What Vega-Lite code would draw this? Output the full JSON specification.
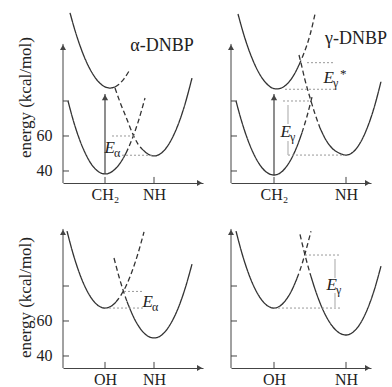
{
  "$schema": "https://vega.github.io/schema/vega-lite/v6.json",
  "padding": {"left": 15, "top": 10, "right": 0, "bottom": 0},
  "autosize": {"type": "pad"},
  "bounds": "flush",
  "columns": 2,
  "spacing": {"row": 43, "column": 28},
  "config": {
    "view": {"stroke": null},
    "font": "Liberation Serif",
    "axis": {"labelFont": "Liberation Serif", "labelFontSize": 16, "labelColor": "#222", "titleFont": "Liberation Serif", "titleFontSize": 17, "titleFontWeight": "normal", "titleColor": "#222", "domainColor": "#444", "grid": false, "ticks": false, "domainWidth": 1, "labelFlush": false},
    "axisX": {"labelFontSize": 16}
  },
  "datasets": {
    "one": [{"k": 1}],
    "yt": [{"E": 40}, {"E": 60}, {"E": 80}],
    "xt": [{"p":1,"q":42},{"p":1,"q":91},{"p":2,"q":43},{"p":2,"q":115},{"p":3,"q":42},{"p":3,"q":91},{"p":4,"q":43},{"p":4,"q":115}],
    "curves": [
      {"p":1,"c":"up","s":"solid","q":7,"E":130.4},{"p":1,"c":"up","s":"solid","q":12,"E":120.3},{"p":1,"c":"up","s":"solid","q":17,"E":111.6},{"p":1,"c":"up","s":"solid","q":22,"E":104.2},{"p":1,"c":"up","s":"solid","q":27,"E":98.2},{"p":1,"c":"up","s":"solid","q":32,"E":93.5},{"p":1,"c":"up","s":"solid","q":37,"E":90.1},{"p":1,"c":"up","s":"solid","q":42,"E":88.1},{"p":1,"c":"up","s":"solid","q":47,"E":87.4},{"p":1,"c":"up","s":"solid","q":52,"E":88.0},
      {"p":1,"c":"up","s":"dashed","q":52,"E":88.0},{"p":1,"c":"up","s":"dashed","q":56,"E":89.6},{"p":1,"c":"up","s":"dashed","q":61,"E":92.7},{"p":1,"c":"up","s":"dashed","q":66,"E":97.1},
      {"p":1,"c":"lo","s":"solid","q":5,"E":80.0},{"p":1,"c":"lo","s":"solid","q":11,"E":67.5},{"p":1,"c":"lo","s":"solid","q":17,"E":57.3},{"p":1,"c":"lo","s":"solid","q":23,"E":49.3},{"p":1,"c":"lo","s":"solid","q":29,"E":43.4},{"p":1,"c":"lo","s":"solid","q":35,"E":39.8},{"p":1,"c":"lo","s":"solid","q":42,"E":38.3},{"p":1,"c":"lo","s":"solid","q":48,"E":39.3},{"p":1,"c":"lo","s":"solid","q":54,"E":42.2},{"p":1,"c":"lo","s":"solid","q":60,"E":47.1},{"p":1,"c":"lo","s":"solid","q":63,"E":50.2},
      {"p":1,"c":"lo","s":"dashed","q":63,"E":50.2},{"p":1,"c":"lo","s":"dashed","q":69,"E":58.1},{"p":1,"c":"lo","s":"dashed","q":75,"E":67.8},{"p":1,"c":"lo","s":"dashed","q":82,"E":81.7},
      {"p":1,"c":"nh","s":"dashed","q":52,"E":87.4},{"p":1,"c":"nh","s":"dashed","q":57,"E":79.4},{"p":1,"c":"nh","s":"dashed","q":63,"E":70.9},{"p":1,"c":"nh","s":"dashed","q":70.7,"E":60.0},{"p":1,"c":"nh","s":"dashed","q":75,"E":55.4},{"p":1,"c":"nh","s":"dashed","q":79,"E":52.6},
      {"p":1,"c":"nh","s":"solid","q":79,"E":52.6},{"p":1,"c":"nh","s":"solid","q":85,"E":49.7},{"p":1,"c":"nh","s":"solid","q":91,"E":48.6},{"p":1,"c":"nh","s":"solid","q":97,"E":49.7},{"p":1,"c":"nh","s":"solid","q":103,"E":53.0},{"p":1,"c":"nh","s":"solid","q":109,"E":58.6},{"p":1,"c":"nh","s":"solid","q":115,"E":66.3},{"p":1,"c":"nh","s":"solid","q":121,"E":76.3},{"p":1,"c":"nh","s":"solid","q":129,"E":93.1},

      {"p":2,"c":"up","s":"solid","q":7,"E":129.7},{"p":2,"c":"up","s":"solid","q":14,"E":115.7},{"p":2,"c":"up","s":"solid","q":21,"E":104.5},{"p":2,"c":"up","s":"solid","q":28,"E":96.0},{"p":2,"c":"up","s":"solid","q":35,"E":90.3},{"p":2,"c":"up","s":"solid","q":41,"E":87.5},{"p":2,"c":"up","s":"solid","q":46,"E":86.9},{"p":2,"c":"up","s":"solid","q":52,"E":87.9},{"p":2,"c":"up","s":"solid","q":58,"E":90.9},{"p":2,"c":"up","s":"solid","q":63,"E":95.0},{"p":2,"c":"up","s":"solid","q":68,"E":100.6},
      {"p":2,"c":"up","s":"dashed","q":68,"E":100.6},{"p":2,"c":"up","s":"dashed","q":73,"E":107.4},{"p":2,"c":"up","s":"dashed","q":79,"E":117.7},{"p":2,"c":"up","s":"dashed","q":84,"E":129.7},
      {"p":2,"c":"lo","s":"solid","q":5,"E":80.0},{"p":2,"c":"lo","s":"solid","q":11,"E":67.7},{"p":2,"c":"lo","s":"solid","q":17,"E":57.5},{"p":2,"c":"lo","s":"solid","q":23,"E":49.4},{"p":2,"c":"lo","s":"solid","q":29,"E":43.4},{"p":2,"c":"lo","s":"solid","q":36,"E":39.1},{"p":2,"c":"lo","s":"solid","q":43,"E":37.7},{"p":2,"c":"lo","s":"solid","q":49,"E":38.8},{"p":2,"c":"lo","s":"solid","q":55,"E":42.2},{"p":2,"c":"lo","s":"solid","q":61,"E":47.7},{"p":2,"c":"lo","s":"solid","q":67,"E":55.5},{"p":2,"c":"lo","s":"solid","q":71,"E":61.9},
      {"p":2,"c":"lo","s":"dashed","q":71,"E":61.9},{"p":2,"c":"lo","s":"dashed","q":76,"E":71.3},{"p":2,"c":"lo","s":"dashed","q":81,"E":82.3},
      {"p":2,"c":"nh","s":"dashed","q":68,"E":106.3},{"p":2,"c":"nh","s":"dashed","q":70,"E":101.7},{"p":2,"c":"nh","s":"dashed","q":74,"E":92.0},{"p":2,"c":"nh","s":"dashed","q":80,"E":80.0},{"p":2,"c":"nh","s":"dashed","q":84,"E":72.6},{"p":2,"c":"nh","s":"dashed","q":89,"E":64.6},
      {"p":2,"c":"nh","s":"solid","q":89,"E":64.6},{"p":2,"c":"nh","s":"solid","q":95,"E":57.7},{"p":2,"c":"nh","s":"solid","q":101,"E":53.1},{"p":2,"c":"nh","s":"solid","q":108,"E":50.3},{"p":2,"c":"nh","s":"solid","q":115,"E":49.1},{"p":2,"c":"nh","s":"solid","q":122,"E":50.8},{"p":2,"c":"nh","s":"solid","q":129,"E":55.9},{"p":2,"c":"nh","s":"solid","q":136,"E":64.3},{"p":2,"c":"nh","s":"solid","q":143,"E":76.0},{"p":2,"c":"nh","s":"solid","q":150,"E":91.1},

      {"p":3,"c":"oh","s":"solid","q":4,"E":111.4},{"p":3,"c":"oh","s":"solid","q":10,"E":98.6},{"p":3,"c":"oh","s":"solid","q":16,"E":88.0},{"p":3,"c":"oh","s":"solid","q":22,"E":79.6},{"p":3,"c":"oh","s":"solid","q":28,"E":73.4},{"p":3,"c":"oh","s":"solid","q":35,"E":68.9},{"p":3,"c":"oh","s":"solid","q":42,"E":67.4},{"p":3,"c":"oh","s":"solid","q":49,"E":68.8},{"p":3,"c":"oh","s":"solid","q":53,"E":70.9},
      {"p":3,"c":"oh","s":"dashed","q":53,"E":70.9},{"p":3,"c":"oh","s":"dashed","q":58,"E":74.8},{"p":3,"c":"oh","s":"dashed","q":63,"E":80.0},{"p":3,"c":"oh","s":"dashed","q":69,"E":88.3},{"p":3,"c":"oh","s":"dashed","q":75,"E":98.6},{"p":3,"c":"oh","s":"dashed","q":81,"E":110.9},
      {"p":3,"c":"nh","s":"dashed","q":51,"E":96.0},{"p":3,"c":"nh","s":"dashed","q":56,"E":85.3},{"p":3,"c":"nh","s":"dashed","q":61,"E":76.0},{"p":3,"c":"nh","s":"dashed","q":64,"E":71.1},
      {"p":3,"c":"nh","s":"solid","q":64,"E":71.1},{"p":3,"c":"nh","s":"solid","q":72,"E":60.6},{"p":3,"c":"nh","s":"solid","q":79,"E":54.4},{"p":3,"c":"nh","s":"solid","q":85,"E":51.3},{"p":3,"c":"nh","s":"solid","q":91,"E":50.3},{"p":3,"c":"nh","s":"solid","q":97,"E":51.3},{"p":3,"c":"nh","s":"solid","q":103,"E":54.5},{"p":3,"c":"nh","s":"solid","q":109,"E":59.8},{"p":3,"c":"nh","s":"solid","q":115,"E":67.1},{"p":3,"c":"nh","s":"solid","q":122,"E":78.4},{"p":3,"c":"nh","s":"solid","q":129,"E":92.5},

      {"p":4,"c":"oh","s":"solid","q":5,"E":111.4},{"p":4,"c":"oh","s":"solid","q":11,"E":98.6},{"p":4,"c":"oh","s":"solid","q":17,"E":88.0},{"p":4,"c":"oh","s":"solid","q":23,"E":79.6},{"p":4,"c":"oh","s":"solid","q":29,"E":73.4},{"p":4,"c":"oh","s":"solid","q":36,"E":68.9},{"p":4,"c":"oh","s":"solid","q":43,"E":67.4},{"p":4,"c":"oh","s":"solid","q":49,"E":68.6},{"p":4,"c":"oh","s":"solid","q":55,"E":72.1},{"p":4,"c":"oh","s":"solid","q":61,"E":77.8},{"p":4,"c":"oh","s":"solid","q":66,"E":84.4},
      {"p":4,"c":"oh","s":"dashed","q":66,"E":84.4},{"p":4,"c":"oh","s":"dashed","q":71,"E":92.5},{"p":4,"c":"oh","s":"dashed","q":76,"E":102.6},{"p":4,"c":"oh","s":"dashed","q":80,"E":111.3},
      {"p":4,"c":"nh","s":"dashed","q":69,"E":109.5},{"p":4,"c":"nh","s":"dashed","q":74,"E":97.7},{"p":4,"c":"nh","s":"dashed","q":79,"E":87.3},
      {"p":4,"c":"nh","s":"solid","q":79,"E":87.3},{"p":4,"c":"nh","s":"solid","q":86,"E":74.9},{"p":4,"c":"nh","s":"solid","q":93,"E":65.1},{"p":4,"c":"nh","s":"solid","q":101,"E":57.3},{"p":4,"c":"nh","s":"solid","q":108,"E":53.3},{"p":4,"c":"nh","s":"solid","q":115,"E":52.0},{"p":4,"c":"nh","s":"solid","q":122,"E":53.6},{"p":4,"c":"nh","s":"solid","q":129,"E":58.3},{"p":4,"c":"nh","s":"solid","q":136,"E":66.2},{"p":4,"c":"nh","s":"solid","q":143,"E":77.2},{"p":4,"c":"nh","s":"solid","q":150,"E":91.4}
    ],
    "dots": [
      {"p":1,"q":49,"q2":72,"E":60.0},{"p":1,"q":59,"q2":91,"E":49.0},
      {"p":2,"q":76,"q2":102,"E":101.9},{"p":2,"q":54,"q2":104,"E":86.7},{"p":2,"q":52,"q2":79,"E":80.0},{"p":2,"q":57,"q2":114,"E":49.1},
      {"p":3,"q":61,"q2":81,"E":76.9},{"p":3,"q":42,"q2":81,"E":67.4},
      {"p":4,"q":74,"q2":109,"E":97.7},{"p":4,"q":43,"q2":109,"E":67.4}
    ],
    "bars": [
      {"p":2,"q":57,"E":77.7,"E2":66.9},{"p":2,"q":57,"E":57.1,"E2":49.1},
      {"p":4,"q":104,"E":95.4,"E2":84.6},{"p":4,"q":104,"E":76.0,"E2":68.0}
    ],
    "arrows": [
      {"p":1,"q":42,"E":38.3,"E2":84.0},{"p":2,"q":43,"E":37.7,"E2":84.0}
    ],
    "labels": [
      {"p":1,"q":50,"E":53.1,"sub":"α","sup":""},
      {"p":2,"q":58,"E":62.0,"sub":"γ","sup":""},
      {"p":2,"q":101,"E":93.1,"sub":"γ","sup":"*"},
      {"p":3,"q":88,"E":70.9,"sub":"α","sup":""},
      {"p":4,"q":104,"E":80.6,"sub":"γ","sup":""}
    ],
    "titles": [
      {"p":1,"q":99,"E":111.4,"text":"α-DNBP"},
      {"p":2,"q":125,"E":115.4,"text":"γ-DNBP"}
    ]
  },
  "concat": [
    {
      "width": 140, "height": 172,
      "layer": [
        {"data": {"name": "curves"}, "transform": [{"filter": "datum.p == 1"}],
         "mark": {"type": "line", "interpolate": "monotone", "strokeWidth": 1.3, "color": "#333"},
         "encoding": {
           "x": {"field": "q", "type": "quantitative", "scale": {"domain": [0, 140], "nice": false, "zero": false}, "axis": {"values": [42, 91], "labelExpr": "datum.value == 42 ? 'CH₂' : 'NH'", "labelPadding": 3, "title": null, "labelAngle": 0}},
           "y": {"field": "E", "type": "quantitative", "scale": {"domain": [33.14, 131.43], "nice": false, "zero": false}, "axis": {"values": [40, 60, 80], "labelExpr": "datum.value == 80 ? '' : datum.label", "labelPadding": 11, "domain": false, "title": "energy (kcal/mol)", "titlePadding": 2}},
           "detail": [{"field": "c"}, {"field": "s"}],
           "strokeDash": {"field": "s", "type": "nominal", "scale": {"domain": ["solid", "dashed"], "range": [[1, 0], [5, 3]]}, "legend": null}}},
        {"data": {"name": "dots"}, "transform": [{"filter": "datum.p == 1"}],
         "mark": {"type": "rule", "color": "#999", "strokeDash": [2, 2], "strokeWidth": 1},
         "encoding": {"x": {"field": "q", "type": "quantitative"}, "x2": {"field": "q2"}, "y": {"field": "E", "type": "quantitative"}}},
        {"data": {"name": "arrows"}, "transform": [{"filter": "datum.p == 1"}],
         "mark": {"type": "rule", "color": "#444", "strokeWidth": 1.2},
         "encoding": {"x": {"field": "q", "type": "quantitative"}, "y": {"field": "E", "type": "quantitative"}, "y2": {"field": "E2"}}},
        {"data": {"name": "arrows"}, "transform": [{"filter": "datum.p == 1"}],
         "mark": {"type": "point", "shape": "triangle-up", "filled": true, "size": 40, "color": "#444", "opacity": 1, "yOffset": 3.6},
         "encoding": {"x": {"field": "q", "type": "quantitative"}, "y": {"field": "E2", "type": "quantitative"}}},
        {"data": {"name": "yt"},
         "mark": {"type": "rule", "color": "#444", "strokeWidth": 1},
         "encoding": {"x": {"datum": 0}, "x2": {"datum": 6}, "y": {"field": "E", "type": "quantitative"}}},
        {"data": {"name": "xt"}, "transform": [{"filter": "datum.p == 1"}],
         "mark": {"type": "rule", "color": "#444", "strokeWidth": 1},
         "encoding": {"x": {"field": "q", "type": "quantitative"}, "y": {"datum": 33.14}, "y2": {"datum": 36.6}}},
        {"data": {"name": "one"},
         "mark": {"type": "rule", "color": "#444", "strokeWidth": 1},
         "encoding": {"x": {"datum": 0}, "y": {"datum": 33.14}, "y2": {"datum": 112.6}}},
        {"data": {"name": "one"},
         "mark": {"type": "point", "shape": "triangle-up", "filled": true, "size": 36, "color": "#444", "opacity": 1, "yOffset": 3.4},
         "encoding": {"x": {"datum": 0}, "y": {"datum": 112.6}}},
        {"data": {"name": "one"},
         "mark": {"type": "point", "shape": "triangle-right", "filled": true, "size": 36, "color": "#444", "opacity": 1, "xOffset": -3.4},
         "encoding": {"x": {"datum": 140}, "y": {"datum": 33.14}}},
        {"data": {"name": "labels"}, "transform": [{"filter": "datum.p == 1"}],
         "mark": {"type": "text", "text": "E", "font": "Liberation Serif", "fontStyle": "italic", "fontSize": 17, "align": "right", "baseline": "middle", "dx": 2, "fill": "#222"},
         "encoding": {"x": {"field": "q", "type": "quantitative"}, "y": {"field": "E", "type": "quantitative"}}},
        {"data": {"name": "labels"}, "transform": [{"filter": "datum.p == 1"}],
         "mark": {"type": "text", "font": "Liberation Serif", "fontSize": 12, "align": "left", "baseline": "middle", "dx": 1, "dy": 5, "fill": "#222"},
         "encoding": {"x": {"field": "q", "type": "quantitative"}, "y": {"field": "E", "type": "quantitative"}, "text": {"field": "sub"}}},
        {"data": {"name": "titles"}, "transform": [{"filter": "datum.p == 1"}],
         "mark": {"type": "text", "font": "Liberation Serif", "fontSize": 18, "align": "center", "baseline": "middle", "fill": "#222"},
         "encoding": {"x": {"field": "q", "type": "quantitative"}, "y": {"field": "E", "type": "quantitative"}, "text": {"field": "text"}}}
      ]
    },
    {
      "width": 140, "height": 172,
      "layer": [
        {"data": {"name": "curves"}, "transform": [{"filter": "datum.p == 2"}],
         "mark": {"type": "line", "interpolate": "monotone", "strokeWidth": 1.3, "color": "#333"},
         "encoding": {
           "x": {"field": "q", "type": "quantitative", "scale": {"domain": [0, 140], "nice": false, "zero": false}, "axis": {"values": [43, 115], "labelExpr": "datum.value == 43 ? 'CH₂' : 'NH'", "labelPadding": 3, "title": null, "labelAngle": 0}},
           "y": {"field": "E", "type": "quantitative", "scale": {"domain": [33.14, 131.43], "nice": false, "zero": false}, "axis": {"values": [40, 60, 80], "labels": false, "domain": false, "title": null}},
           "detail": [{"field": "c"}, {"field": "s"}],
           "strokeDash": {"field": "s", "type": "nominal", "scale": {"domain": ["solid", "dashed"], "range": [[1, 0], [5, 3]]}, "legend": null}}},
        {"data": {"name": "dots"}, "transform": [{"filter": "datum.p == 2"}],
         "mark": {"type": "rule", "color": "#999", "strokeDash": [2, 2], "strokeWidth": 1},
         "encoding": {"x": {"field": "q", "type": "quantitative"}, "x2": {"field": "q2"}, "y": {"field": "E", "type": "quantitative"}}},
        {"data": {"name": "bars"}, "transform": [{"filter": "datum.p == 2"}],
         "mark": {"type": "rule", "color": "#bbb", "strokeWidth": 1.3},
         "encoding": {"x": {"field": "q", "type": "quantitative"}, "y": {"field": "E", "type": "quantitative"}, "y2": {"field": "E2"}}},
        {"data": {"name": "arrows"}, "transform": [{"filter": "datum.p == 2"}],
         "mark": {"type": "rule", "color": "#444", "strokeWidth": 1.2},
         "encoding": {"x": {"field": "q", "type": "quantitative"}, "y": {"field": "E", "type": "quantitative"}, "y2": {"field": "E2"}}},
        {"data": {"name": "arrows"}, "transform": [{"filter": "datum.p == 2"}],
         "mark": {"type": "point", "shape": "triangle-up", "filled": true, "size": 40, "color": "#444", "opacity": 1, "yOffset": 3.6},
         "encoding": {"x": {"field": "q", "type": "quantitative"}, "y": {"field": "E2", "type": "quantitative"}}},
        {"data": {"name": "yt"},
         "mark": {"type": "rule", "color": "#444", "strokeWidth": 1},
         "encoding": {"x": {"datum": 0}, "x2": {"datum": 6}, "y": {"field": "E", "type": "quantitative"}}},
        {"data": {"name": "xt"}, "transform": [{"filter": "datum.p == 2"}],
         "mark": {"type": "rule", "color": "#444", "strokeWidth": 1},
         "encoding": {"x": {"field": "q", "type": "quantitative"}, "y": {"datum": 33.14}, "y2": {"datum": 36.6}}},
        {"data": {"name": "one"},
         "mark": {"type": "rule", "color": "#444", "strokeWidth": 1},
         "encoding": {"x": {"datum": 0}, "y": {"datum": 33.14}, "y2": {"datum": 112.6}}},
        {"data": {"name": "one"},
         "mark": {"type": "point", "shape": "triangle-up", "filled": true, "size": 36, "color": "#444", "opacity": 1, "yOffset": 3.4},
         "encoding": {"x": {"datum": 0}, "y": {"datum": 112.6}}},
        {"data": {"name": "one"},
         "mark": {"type": "point", "shape": "triangle-right", "filled": true, "size": 36, "color": "#444", "opacity": 1, "xOffset": -3.4},
         "encoding": {"x": {"datum": 140}, "y": {"datum": 33.14}}},
        {"data": {"name": "labels"}, "transform": [{"filter": "datum.p == 2"}],
         "mark": {"type": "text", "text": "E", "font": "Liberation Serif", "fontStyle": "italic", "fontSize": 17, "align": "right", "baseline": "middle", "dx": 2, "fill": "#222"},
         "encoding": {"x": {"field": "q", "type": "quantitative"}, "y": {"field": "E", "type": "quantitative"}}},
        {"data": {"name": "labels"}, "transform": [{"filter": "datum.p == 2"}],
         "mark": {"type": "text", "font": "Liberation Serif", "fontSize": 12, "align": "left", "baseline": "middle", "dx": 1, "dy": 5, "fill": "#222"},
         "encoding": {"x": {"field": "q", "type": "quantitative"}, "y": {"field": "E", "type": "quantitative"}, "text": {"field": "sub"}}},
        {"data": {"name": "labels"}, "transform": [{"filter": "datum.p == 2 && datum.sup != ''"}],
         "mark": {"type": "text", "font": "Liberation Serif", "fontSize": 13, "align": "left", "baseline": "middle", "dx": 8, "dy": -4, "fill": "#222"},
         "encoding": {"x": {"field": "q", "type": "quantitative"}, "y": {"field": "E", "type": "quantitative"}, "text": {"field": "sup"}}},
        {"data": {"name": "titles"}, "transform": [{"filter": "datum.p == 2"}],
         "mark": {"type": "text", "font": "Liberation Serif", "fontSize": 18, "align": "center", "baseline": "middle", "fill": "#222"},
         "encoding": {"x": {"field": "q", "type": "quantitative"}, "y": {"field": "E", "type": "quantitative"}, "text": {"field": "text"}}}
      ]
    },
    {
      "width": 140, "height": 142,
      "layer": [
        {"data": {"name": "curves"}, "transform": [{"filter": "datum.p == 3"}],
         "mark": {"type": "line", "interpolate": "monotone", "strokeWidth": 1.3, "color": "#333"},
         "encoding": {
           "x": {"field": "q", "type": "quantitative", "scale": {"domain": [0, 140], "nice": false, "zero": false}, "axis": {"values": [42, 91], "labelExpr": "datum.value == 42 ? 'OH' : 'NH'", "labelPadding": 3, "title": null, "labelAngle": 0}},
           "y": {"field": "E", "type": "quantitative", "scale": {"domain": [33.14, 114.29], "nice": false, "zero": false}, "axis": {"values": [40, 60, 80], "labelExpr": "datum.value == 80 ? '' : datum.label", "labelPadding": 11, "domain": false, "title": "energy (kcal/mol)", "titlePadding": 2}},
           "detail": [{"field": "c"}, {"field": "s"}],
           "strokeDash": {"field": "s", "type": "nominal", "scale": {"domain": ["solid", "dashed"], "range": [[1, 0], [5, 3]]}, "legend": null}}},
        {"data": {"name": "dots"}, "transform": [{"filter": "datum.p == 3"}],
         "mark": {"type": "rule", "color": "#999", "strokeDash": [2, 2], "strokeWidth": 1},
         "encoding": {"x": {"field": "q", "type": "quantitative"}, "x2": {"field": "q2"}, "y": {"field": "E", "type": "quantitative"}}},
        {"data": {"name": "yt"},
         "mark": {"type": "rule", "color": "#444", "strokeWidth": 1},
         "encoding": {"x": {"datum": 0}, "x2": {"datum": 6}, "y": {"field": "E", "type": "quantitative"}}},
        {"data": {"name": "xt"}, "transform": [{"filter": "datum.p == 3"}],
         "mark": {"type": "rule", "color": "#444", "strokeWidth": 1},
         "encoding": {"x": {"field": "q", "type": "quantitative"}, "y": {"datum": 33.14}, "y2": {"datum": 36.6}}},
        {"data": {"name": "one"},
         "mark": {"type": "rule", "color": "#444", "strokeWidth": 1},
         "encoding": {"x": {"datum": 0}, "y": {"datum": 33.14}, "y2": {"datum": 112.6}}},
        {"data": {"name": "one"},
         "mark": {"type": "point", "shape": "triangle-up", "filled": true, "size": 36, "color": "#444", "opacity": 1, "yOffset": 3.4},
         "encoding": {"x": {"datum": 0}, "y": {"datum": 112.6}}},
        {"data": {"name": "one"},
         "mark": {"type": "point", "shape": "triangle-right", "filled": true, "size": 36, "color": "#444", "opacity": 1, "xOffset": -3.4},
         "encoding": {"x": {"datum": 140}, "y": {"datum": 33.14}}},
        {"data": {"name": "labels"}, "transform": [{"filter": "datum.p == 3"}],
         "mark": {"type": "text", "text": "E", "font": "Liberation Serif", "fontStyle": "italic", "fontSize": 17, "align": "right", "baseline": "middle", "dx": 2, "fill": "#222"},
         "encoding": {"x": {"field": "q", "type": "quantitative"}, "y": {"field": "E", "type": "quantitative"}}},
        {"data": {"name": "labels"}, "transform": [{"filter": "datum.p == 3"}],
         "mark": {"type": "text", "font": "Liberation Serif", "fontSize": 12, "align": "left", "baseline": "middle", "dx": 1, "dy": 5, "fill": "#222"},
         "encoding": {"x": {"field": "q", "type": "quantitative"}, "y": {"field": "E", "type": "quantitative"}, "text": {"field": "sub"}}}
      ]
    },
    {
      "width": 140, "height": 142,
      "layer": [
        {"data": {"name": "curves"}, "transform": [{"filter": "datum.p == 4"}],
         "mark": {"type": "line", "interpolate": "monotone", "strokeWidth": 1.3, "color": "#333"},
         "encoding": {
           "x": {"field": "q", "type": "quantitative", "scale": {"domain": [0, 140], "nice": false, "zero": false}, "axis": {"values": [43, 115], "labelExpr": "datum.value == 43 ? 'OH' : 'NH'", "labelPadding": 3, "title": null, "labelAngle": 0}},
           "y": {"field": "E", "type": "quantitative", "scale": {"domain": [33.14, 114.29], "nice": false, "zero": false}, "axis": {"values": [40, 60, 80], "labels": false, "domain": false, "title": null}},
           "detail": [{"field": "c"}, {"field": "s"}],
           "strokeDash": {"field": "s", "type": "nominal", "scale": {"domain": ["solid", "dashed"], "range": [[1, 0], [5, 3]]}, "legend": null}}},
        {"data": {"name": "dots"}, "transform": [{"filter": "datum.p == 4"}],
         "mark": {"type": "rule", "color": "#999", "strokeDash": [2, 2], "strokeWidth": 1},
         "encoding": {"x": {"field": "q", "type": "quantitative"}, "x2": {"field": "q2"}, "y": {"field": "E", "type": "quantitative"}}},
        {"data": {"name": "bars"}, "transform": [{"filter": "datum.p == 4"}],
         "mark": {"type": "rule", "color": "#bbb", "strokeWidth": 1.3},
         "encoding": {"x": {"field": "q", "type": "quantitative"}, "y": {"field": "E", "type": "quantitative"}, "y2": {"field": "E2"}}},
        {"data": {"name": "yt"},
         "mark": {"type": "rule", "color": "#444", "strokeWidth": 1},
         "encoding": {"x": {"datum": 0}, "x2": {"datum": 6}, "y": {"field": "E", "type": "quantitative"}}},
        {"data": {"name": "xt"}, "transform": [{"filter": "datum.p == 4"}],
         "mark": {"type": "rule", "color": "#444", "strokeWidth": 1},
         "encoding": {"x": {"field": "q", "type": "quantitative"}, "y": {"datum": 33.14}, "y2": {"datum": 36.6}}},
        {"data": {"name": "one"},
         "mark": {"type": "rule", "color": "#444", "strokeWidth": 1},
         "encoding": {"x": {"datum": 0}, "y": {"datum": 33.14}, "y2": {"datum": 112.6}}},
        {"data": {"name": "one"},
         "mark": {"type": "point", "shape": "triangle-up", "filled": true, "size": 36, "color": "#444", "opacity": 1, "yOffset": 3.4},
         "encoding": {"x": {"datum": 0}, "y": {"datum": 112.6}}},
        {"data": {"name": "one"},
         "mark": {"type": "point", "shape": "triangle-right", "filled": true, "size": 36, "color": "#444", "opacity": 1, "xOffset": -3.4},
         "encoding": {"x": {"datum": 140}, "y": {"datum": 33.14}}},
        {"data": {"name": "labels"}, "transform": [{"filter": "datum.p == 4"}],
         "mark": {"type": "text", "text": "E", "font": "Liberation Serif", "fontStyle": "italic", "fontSize": 17, "align": "right", "baseline": "middle", "dx": 2, "fill": "#222"},
         "encoding": {"x": {"field": "q", "type": "quantitative"}, "y": {"field": "E", "type": "quantitative"}}},
        {"data": {"name": "labels"}, "transform": [{"filter": "datum.p == 4"}],
         "mark": {"type": "text", "font": "Liberation Serif", "fontSize": 12, "align": "left", "baseline": "middle", "dx": 1, "dy": 5, "fill": "#222"},
         "encoding": {"x": {"field": "q", "type": "quantitative"}, "y": {"field": "E", "type": "quantitative"}, "text": {"field": "sub"}}}
      ]
    }
  ]
}
